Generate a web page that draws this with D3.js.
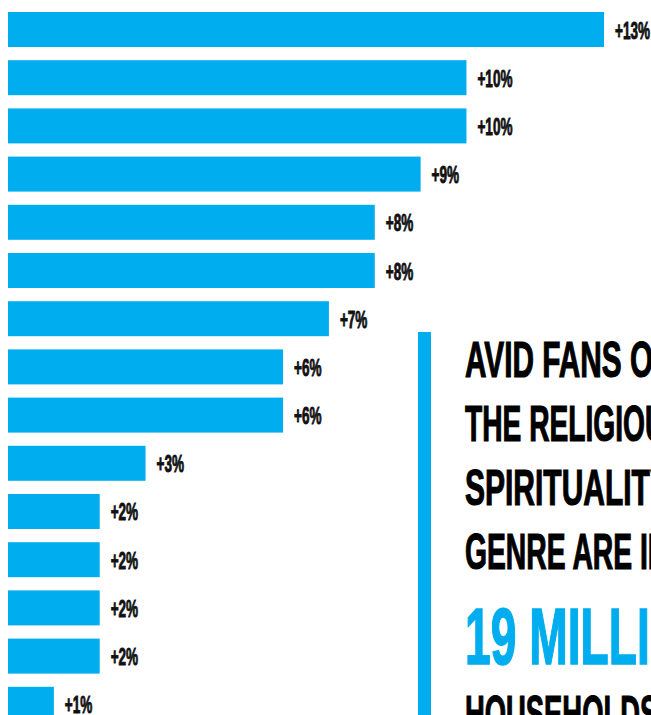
<!DOCTYPE html>
<html>
<head>
<meta charset="utf-8">
<script src="https://cdn.jsdelivr.net/npm/d3@7"></script>
<style>
  html, body { margin: 0; padding: 0; background: #fff; overflow: hidden; }
  svg { display: block; }
</style>
</head>
<body>
<svg id="chart" width="651" height="715"></svg>
<script>
// ---- data ----
const categories = ["c1","c2","c3","c4","c5","c6","c7","c8","c9","c10","c11","c12","c13","c14","c15"];
const values = [13, 10, 10, 9, 8, 8, 7, 6, 6, 3, 2, 2, 2, 2, 1];
const valueLabels = ["+13%","+10%","+10%","+9%","+8%","+8%","+7%","+6%","+6%","+3%","+2%","+2%","+2%","+2%","+1%"];
const calloutLines = ["AVID FANS OF", "THE RELIGIOUS &", "SPIRITUALITY", "GENRE ARE IN"];
const calloutNumber = "19 MILLION";
const calloutTail = "HOUSEHOLDS";

const BLUE = "#00ADEE";
const FONT = "'Liberation Sans Narrow','Liberation Sans','Arial Narrow',Arial,sans-serif";

const svg = d3.select("#chart");

const x = d3.scaleLinear().domain([0, 13]).range([8, 604]);
const y = d3.scaleBand().domain(categories).range([-1.2, 735]).padding(0.274);

// bars
svg.append("g").selectAll("rect")
  .data(values)
  .join("rect")
  .attr("x", x(0))
  .attr("y", (d, i) => y(categories[i]))
  .attr("width", d => x(d) - x(0))
  .attr("height", y.bandwidth())
  .attr("fill", BLUE);

// value labels (condensed)
const lblG = svg.append("g");
const probe = lblG.append("text").attr("font-family", FONT).attr("font-weight", "bold")
  .attr("font-size", 23).text(valueLabels[0]);
const lblScale = 35 / probe.node().getComputedTextLength();
probe.remove();

lblG.selectAll("text")
  .data(values)
  .join("text")
  .attr("transform", (d, i) => `translate(${x(d) + 11},${y(categories[i]) + y.bandwidth() / 2 + 9}) scale(${lblScale},1)`)
  .attr("font-family", FONT)
  .attr("font-weight", "bold")
  .attr("font-size", 23)
  .attr("fill", "#111")
  .attr("stroke", "#111")
  .attr("stroke-width", 0.9)
  .text((d, i) => valueLabels[i]);

// callout
const cg = svg.append("g");
cg.append("rect").attr("x", 418).attr("y", 332).attr("width", 13).attr("height", 400).attr("fill", BLUE);

// each line: text, baseline, size, colour, prefix length to fit, target width of that prefix
const lineSpecs = [
  { t: calloutLines[0], b: 377, s: 50, c: "#000", k: 10, w: 165 },
  { t: calloutLines[1], b: 441, s: 50, c: "#000", k: 11, w: 180 },
  { t: calloutLines[2], b: 505, s: 50, c: "#000", k: 11, w: 185 },
  { t: calloutLines[3], b: 569, s: 50, c: "#000", k: 10, w: 175 },
  { t: calloutNumber,   b: 664, s: 80, c: BLUE,   k: 7,  w: 172 },
  { t: calloutTail,     b: 731, s: 50, c: "#000", k: 9,  w: 175 }
];

lineSpecs.forEach(L => {
  const t = cg.append("text")
    .attr("font-family", FONT).attr("font-weight", "bold").attr("font-size", L.s)
    .attr("fill", L.c).attr("stroke", L.c).attr("stroke-width", L.s > 60 ? 1.6 : 1.2)
    .text(L.t);
  let sub;
  try { sub = t.node().getSubStringLength(0, L.k); } catch (e) { sub = t.node().getComputedTextLength() * L.k / L.t.length; }
  const sc = L.w / sub;
  t.attr("transform", `translate(465,${L.b}) scale(${sc},1)`);
});
</script>
</body>
</html>
